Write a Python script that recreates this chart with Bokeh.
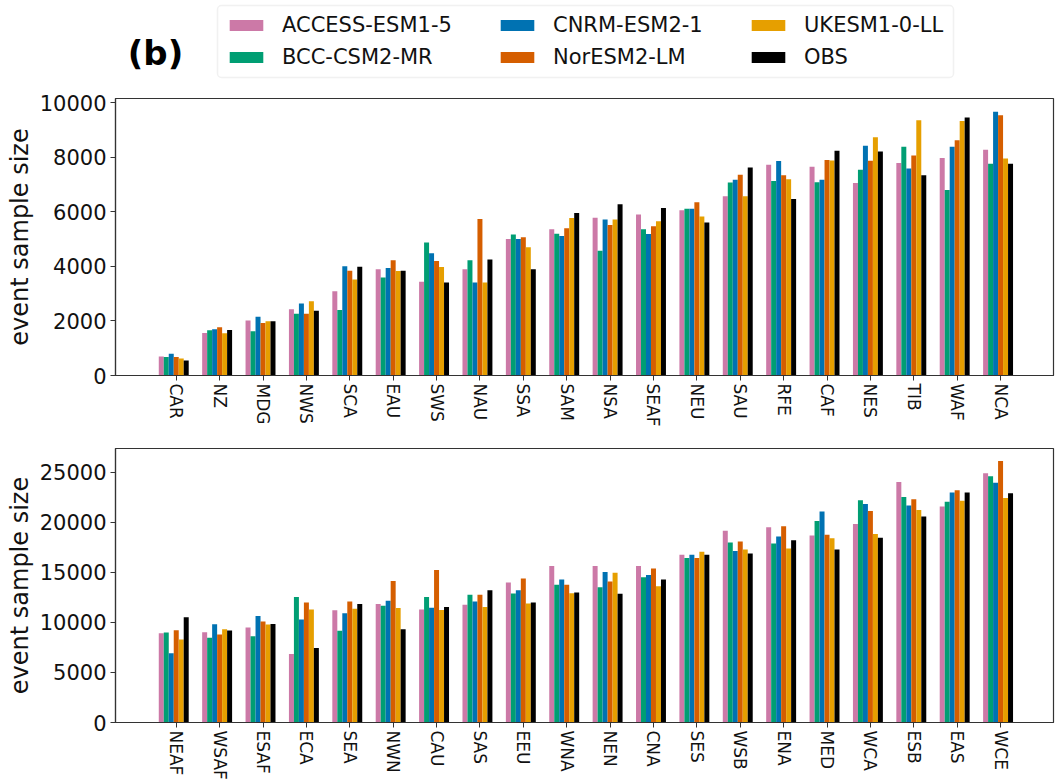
import numpy as np
from bokeh.plotting import figure
from bokeh.models import Range1d, FixedTicker, Legend, LegendItem, Label, BoxAnnotation
from bokeh.layouts import column
from bokeh.embed import file_html
from bokeh.resources import INLINE

# ---------------- data ----------------
models = ["ACCESS-ESM1-5", "BCC-CSM2-MR", "CNRM-ESM2-1", "NorESM2-LM", "UKESM1-0-LL", "OBS"]
colors = ["#CC79A7", "#009E73", "#0072B2", "#D55E00", "#E69F00", "#000000"]

top_regions = ["CAR", "NZ", "MDG", "NWS", "SCA", "EAU", "SWS", "NAU", "SSA", "SAM",
               "NSA", "SEAF", "NEU", "SAU", "RFE", "CAF", "NES", "TIB", "WAF", "NCA"]
top_access = [700, 1560, 2020, 2430, 3090, 3900, 3440, 3900, 5010, 5370,
              5790, 5910, 6060, 6580, 7730, 7660, 7060, 7800, 7980, 8280]
top_bcc = [675, 1660, 1620, 2270, 2400, 3600, 4880, 4230, 5170, 5200,
           4580, 5370, 6120, 7080, 7140, 7090, 7550, 8390, 6810, 7770]
top_cnrm = [800, 1700, 2160, 2640, 4010, 3940, 4490, 3410, 5010, 5120,
            5720, 5190, 6120, 7180, 7870, 7180, 8430, 7600, 8390, 9680]
top_noresm = [675, 1770, 1930, 2270, 3840, 4230, 4200, 5740, 5070, 5400,
              5520, 5480, 6360, 7370, 7350, 7910, 7880, 8070, 8630, 9550]
top_ukesm = [625, 1550, 1990, 2720, 3520, 3830, 3980, 3410, 4710, 5780,
             5720, 5660, 5830, 6580, 7200, 7890, 8740, 9370, 9340, 7960]
top_obs = [550, 1670, 1990, 2380, 3990, 3840, 3410, 4260, 3900, 5960,
           6280, 6150, 5610, 7630, 6480, 8250, 8220, 7350, 9470, 7770]
top_yticks = [0, 2000, 4000, 6000, 8000, 10000]

bot_regions = ["NEAF", "WSAF", "ESAF", "ECA", "SEA", "NWN", "CAU", "SAS", "EEU", "WNA",
               "NEN", "CNA", "SES", "WSB", "ENA", "MED", "WCA", "ESB", "EAS", "WCE"]
bot_access = [8920, 9020, 9480, 6840, 11200, 11820, 11290, 11760, 13970, 15620,
              15620, 15620, 16740, 19150, 19480, 18660, 19820, 24010, 21570, 24870]
bot_bcc = [8980, 8450, 8620, 12520, 9150, 11660, 12520, 12750, 12880, 13740,
           13510, 14500, 16410, 17970, 17870, 20110, 22190, 22520, 22030, 24570]
bot_cnrm = [6900, 9810, 10630, 10270, 10900, 12150, 11460, 12090, 13210, 14270,
            15030, 14730, 16740, 17110, 18560, 21070, 21800, 21660, 22950, 23940]
bot_noresm = [9210, 8780, 10070, 11990, 12090, 14130, 15220, 12750, 14370, 13740,
              14070, 15360, 16410, 18060, 19580, 18730, 21100, 22290, 23180, 26090]
bot_ukesm = [8290, 9310, 9780, 11290, 11360, 11430, 11230, 11530, 11890, 12910,
             14960, 13610, 17040, 17270, 17370, 18390, 18820, 21200, 22130, 22420]
bot_obs = [10500, 9180, 9840, 7430, 11820, 9310, 11530, 13210, 11990, 12980,
           12850, 14270, 16740, 16880, 18200, 17270, 18430, 20570, 22950, 22890]
bot_yticks = [0, 5000, 10000, 15000, 20000, 25000]

FONT = "DejaVu Sans"
BAR_W = 0.115
AXIS_COLOR = "#333333"
W = 1056
LEFT, RIGHT = 115, 3


def panel(regions, series, yticks, ymax, height, border_top, border_bottom):
    p = figure(width=W, height=height, output_backend="svg", toolbar_location=None,
               x_range=Range1d(-1.40, 20.22), y_range=Range1d(0, ymax),
               min_border_left=LEFT, min_border_right=RIGHT, min_border_top=border_top,
               min_border_bottom=border_bottom)
    idx = np.arange(len(regions))
    for j, (vals, c) in enumerate(zip(series, colors)):
        p.vbar(x=idx + (j - 3) * BAR_W, top=vals, bottom=0, width=BAR_W,
               fill_color=c, line_color=None)
    p.grid.visible = False
    p.outline_line_color = AXIS_COLOR
    p.outline_line_width = 1.2

    p.xaxis.ticker = FixedTicker(ticks=[int(i) for i in idx])
    p.xaxis.major_label_overrides = {int(i): r for i, r in zip(idx, regions)}
    p.xaxis.major_label_orientation = "vertical"
    p.xaxis.major_label_text_font = FONT
    p.xaxis.major_label_text_font_size = "17px"
    p.xaxis.major_label_text_color = "#111111"

    p.yaxis.ticker = FixedTicker(ticks=yticks)
    p.yaxis.major_label_text_font = FONT
    p.yaxis.major_label_text_font_size = "21px"
    p.yaxis.major_label_text_color = "#111111"
    p.yaxis.axis_label = "event sample size"
    p.yaxis.axis_label_text_font = FONT
    p.yaxis.axis_label_text_font_size = "24px"
    p.yaxis.axis_label_text_font_style = "normal"
    p.yaxis.axis_label_text_color = "#111111"
    p.yaxis.axis_label_standoff = 3

    for ax in (p.xaxis, p.yaxis):
        ax.axis_line_color = AXIS_COLOR
        ax.axis_line_width = 1.2
        ax.major_tick_line_color = AXIS_COLOR
        ax.major_tick_out = 5
        ax.major_tick_in = 0
        ax.minor_tick_line_color = None
        ax.major_label_standoff = 4
    p.xaxis.major_label_standoff = 3
    return p


p1 = panel(top_regions, [top_access, top_bcc, top_cnrm, top_noresm, top_ukesm, top_obs],
           top_yticks, 10164, 361, 12, 72)
p2 = panel(bot_regions, [bot_access, bot_bcc, bot_cnrm, bot_noresm, bot_ukesm, bot_obs],
           bot_yticks, 27350, 335, 1, 58)

# ---------------- header with panel tag and legend ----------------
HH = 86
header = figure(width=W, height=HH, output_backend="svg", toolbar_location=None,
                x_range=Range1d(LEFT, W - RIGHT), y_range=Range1d(0, HH),
                x_axis_location=None, y_axis_location=None,
                min_border_left=LEFT, min_border_right=RIGHT,
                min_border_top=0, min_border_bottom=0)
header.grid.visible = False
header.outline_line_color = None

header.add_layout(BoxAnnotation(left=217, right=953, bottom=HH - 77, top=HH - 5,
                                fill_alpha=0, line_color="#d0d0d0", line_width=1.5,
                                border_radius=4))

nan = float("nan")
rs = [header.vbar(x=[0], top=[nan], bottom=[nan], width=1, fill_color=c, line_color=None)
      for c in colors]
col_x = [225 - LEFT, 496 - LEFT, 747 - LEFT]
for col in range(3):
    items = [LegendItem(label=models[k], renderers=[rs[k]]) for k in (2 * col, 2 * col + 1)]
    lg = Legend(items=items, location=(col_x[col], HH - 69), orientation="vertical",
                padding=0, margin=0, spacing=8, glyph_width=42, glyph_height=14,
                label_standoff=15, label_height=24,
                label_text_font=FONT, label_text_font_size="21px", label_text_color="#111111",
                border_line_color=None, background_fill_alpha=0)
    header.add_layout(lg)

header.add_layout(Label(x=155, y=HH - 52, text="(b)", text_font=FONT, text_font_size="34px",
                        text_font_style="bold", text_align="center", text_baseline="middle",
                        text_color="#000000"))

layout = column(header, p1, p2, spacing=0)
open("out.html", "w").write(file_html(layout, INLINE))
